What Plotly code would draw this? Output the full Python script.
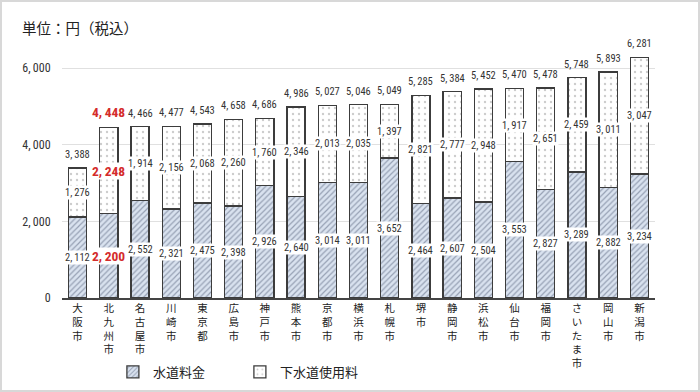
import plotly.graph_objects as go

cities = ["大阪市", "北九州市", "名古屋市", "川崎市", "東京都", "広島市", "神戸市", "熊本市", "京都市",
          "横浜市", "札幌市", "堺市", "静岡市", "浜松市", "仙台市", "福岡市", "さいたま市", "岡山市", "新潟市"]
water = [2112, 2200, 2552, 2321, 2475, 2398, 2926, 2640, 3014, 3011, 3652, 2464, 2607, 2504, 3553, 2827, 3289, 2882, 3234]
sewer = [1276, 2248, 1914, 2156, 2068, 2260, 1760, 2346, 2013, 2035, 1397, 2821, 2777, 2948, 1917, 2651, 2459, 3011, 3047]
totals = [3388, 4448, 4466, 4477, 4543, 4658, 4686, 4986, 5027, 5046, 5049, 5285, 5384, 5452, 5470, 5478, 5748, 5893, 6281]
highlight = "北九州市"
tick_vals = [0, 2000, 4000, 6000]

def fmt(v):
    return f"{v:,}".replace(",", ",\u2009")

ticktext = ["<br>".join(list(c)) for c in cities]
NUMFONT = "Liberation Sans Narrow, Roboto Condensed, Arial Narrow, Liberation Sans, sans-serif"
CJK = "Noto Sans CJK JP, sans-serif"
RED = "#d42b2b"

fig = go.Figure()
fig.add_trace(go.Bar(
    x=cities, y=water, name="水道料金",
    marker=dict(color="#d9e2ef", line=dict(color="#3c3c3c", width=1.3),
                pattern=dict(shape="/", fgcolor="#55607a", bgcolor="#d9e2ef", size=4, solidity=0.3)),
    width=0.58,
))
fig.add_trace(go.Bar(
    x=cities, y=sewer, name="下水道使用料",
    marker=dict(color="white", line=dict(color="#3c3c3c", width=1.3),
                pattern=dict(shape=".", fgcolor="#9a9a9a", bgcolor="white", size=6, solidity=0.12)),
    width=0.58,
))

annotations = []
for c, w, s, t in zip(cities, water, sewer, totals):
    hl = c == highlight
    col = RED if hl else "#333333"
    fsz = 13.5 if hl else 10.5
    fam = NUMFONT
    txt = (lambda v: f"<b>{fmt(v)}</b>") if hl else fmt
    annotations.append(dict(x=c, y=w / 2, text=txt(w), showarrow=False, bgcolor="white",
                            font=dict(size=fsz, color=col, family=fam), borderpad=0))
    annotations.append(dict(x=c, y=w + s / 2, text=txt(s), showarrow=False, bgcolor="white",
                            font=dict(size=fsz, color=col, family=fam), borderpad=0))
    annotations.append(dict(x=c, y=t, text=txt(t), showarrow=False, yanchor="bottom", yshift=5,
                            font=dict(size=fsz, color=col, family=fam)))

annotations.append(dict(xref="paper", yref="paper", x=-62 / 593, y=1 + 17 / 253, xanchor="left",
                        yanchor="middle", text="単位：円（税込）", showarrow=False,
                        font=dict(size=14.5, color="#222222", family=CJK), xshift=20))

fig.update_layout(
    width=700, height=392,
    margin=dict(l=62, r=45, t=45, b=94, autoexpand=False),
    paper_bgcolor="white", plot_bgcolor="white",
    barmode="stack",
    bargap=0.42,
    showlegend=True,
    legend=dict(orientation="h", x=0.30, y=-0.292, xanchor="center", yanchor="middle",
                font=dict(size=13, family=CJK, color="#222222"), entrywidth=82,
                traceorder="normal"),
    annotations=annotations,
    shapes=[dict(type="rect", xref="paper", yref="paper",
                 x0=-61 / 593, x1=1 + 44 / 593, y0=-93 / 253, y1=1 + 44 / 253,
                 line=dict(color="#d8d8d8", width=2), fillcolor="rgba(0,0,0,0)", layer="below")],
    xaxis=dict(tickvals=cities, ticktext=ticktext, tickangle=0, automargin=False,
               tickfont=dict(size=10.5, family=CJK, color="#222222"),
               showline=True, linecolor="#444444", linewidth=1.5, ticks="", showgrid=False),
    yaxis=dict(range=[0, 6600], tickvals=tick_vals, ticktext=[fmt(v) for v in tick_vals], automargin=False,
               tickfont=dict(size=12, family=NUMFONT, color="#333333"),
               showgrid=True, gridcolor="#e0e0e0", gridwidth=1, zeroline=False,
               ticks="outside", ticklen=8, tickcolor="white", showline=False),
)

fig.write_html("out.html", post_script="document.body.style.margin='0';",
               config={"displayModeBar": False})
